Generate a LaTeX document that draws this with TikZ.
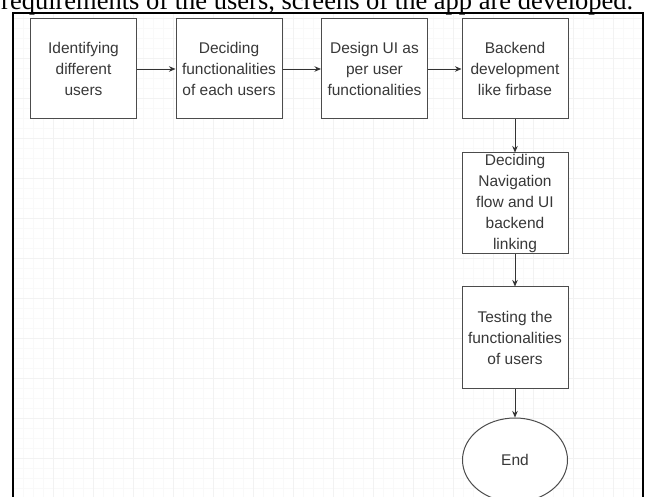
\documentclass[tikz,border=0pt]{standalone}
\usepackage{fontspec}
\setmainfont{Liberation Serif}
\newfontfamily\boxfont{Liberation Sans}
\usetikzlibrary{arrows.meta,shapes.geometric}
\tikzset{
  flowbox/.style={draw=black!70, line width=1pt, fill=white, rectangle, inner sep=0pt,
    minimum width=106pt, minimum height=100pt, align=center, text=black!78,
    font=\boxfont\fontsize{15.5}{21}\selectfont},
  endnode/.style={flowbox, ellipse, minimum width=105pt, minimum height=84pt},
  arr/.style={draw=black!80, line width=0.9pt, -{Stealth[length=6.5pt,width=5.5pt]}},
  gridminor/.style={draw=black!2.5, line width=0.6pt},
  gridmajor/.style={draw=black!5, line width=0.8pt},
}
\begin{document}
\begin{tikzpicture}[x=1pt,y=-1pt]
\useasboundingbox (0,0) rectangle (646,497);
\fill[white] (0,0) rectangle (646,497);
% faint grid
\foreach \x in {23,33,...,643} \draw[gridminor] (\x,14) -- (\x,497);
\foreach \y in {18,28,...,497} \draw[gridminor] (14,\y) -- (642,\y);
\foreach \x in {53,93,...,643} \draw[gridmajor] (\x,14) -- (\x,497);
\foreach \y in {18,58,...,497} \draw[gridmajor] (14,\y) -- (642,\y);
% cropped caption line (cut off at the top, as in the source)
\node[anchor=base west, inner sep=0pt, font=\fontsize{26.5}{30}\selectfont] (cap) at (1,9.5)
  {requirements of the users, screens of the app are developed.};
% frame
\draw[line width=2pt] (13,505) -- (13,13) -- (643,13) -- (643,505);
% nodes
\node[flowbox] (b1) at (83.5,69) {Identifying\\different\\users};
\node[flowbox] (b2) at (229,69) {Deciding\\functionalities\\of each users};
\node[flowbox] (b3) at (374.5,69) {Design UI as\\per user\\functionalities};
\node[flowbox] (b4) at (515,69) {Backend\\development\\like firbase};
\node[flowbox, minimum height=101pt] (b5) at (515,203.5) {Deciding\\Navigation\\flow and UI\\backend\\linking};
\node[flowbox, minimum height=102pt] (b6) at (515,338) {Testing the\\functionalities\\of users};
\node[endnode] (end) at (515,460) {End};
% connectors
\draw[arr] (b1) -- (b2);
\draw[arr] (b2) -- (b3);
\draw[arr] (b3) -- (b4);
\draw[arr] (b4) -- (b5);
\draw[arr] (b5) -- (b6);
\draw[arr] (b6) -- (end);
\end{tikzpicture}
\end{document}
